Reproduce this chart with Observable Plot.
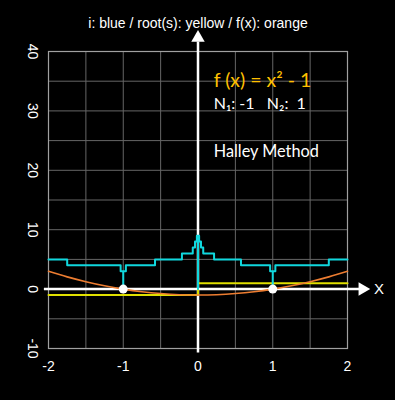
<!DOCTYPE html>
<html>
<head>
<meta charset="utf-8">
<script src="https://cdn.jsdelivr.net/npm/d3@7"></script>
<script src="https://cdn.jsdelivr.net/npm/@observablehq/plot@0.6"></script>
<style>
  html, body { margin: 0; padding: 0; background: #000; }
  #chart svg { display: block; }
</style>
</head>
<body>
<div id="chart"></div>
<script>
// ---- data ----
const title = "i: blue / root(s): yellow / f(x): orange";
const xTicks = [-2, -1, 0, 1, 2];
const yTicks = [-10, 0, 10, 20, 30, 40];
const xGrid = [-1.5, -1, -0.5, 0, 0.5, 1, 1.5];
const yGrid = [-5, 0, 5, 10, 15, 20, 25, 30, 35];

// iteration count (cyan), step-after
const iterX = [-2, -1.75, -1.035, -1, -1, -0.965, -0.575, -0.215, -0.07, -0.04, -0.015, 0, 0, 0.015, 0.04, 0.07, 0.215, 0.575, 0.965, 1, 1, 1.035, 1.75, 2];
const iterY = [5, 4, 3, 0, 3, 4, 5, 6, 7, 8, 9, 0, 9, 8, 7, 6, 5, 4, 3, 0, 3, 4, 5, 5];

// root found (yellow), step-after
const rootX = [-2, 0, 2];
const rootY = [-1, 1, 1];

// f(x) samples (orange)
const fX = [-2, -1.75, -1.5, -1.25, -1, -0.75, -0.5, -0.25, 0, 0.25, 0.5, 0.75, 1, 1.25, 1.5, 1.75, 2];
const fY = [3, 2.06, 1.25, 0.56, 0, -0.44, -0.75, -0.94, -1, -0.94, -0.75, -0.44, 0, 0.56, 1.25, 2.06, 3];

// roots (white dots)
const rootsX = [-1, 1];

const formula = "f (x) = x² - 1";
const rootsLabel = "N₁: -1\u00a0\u00a0\u00a0N₂:\u00a0\u00a01";
const methodLabel = "Halley Method";

// ---- build tables ----
const iter = iterX.map((x, i) => ({x, y: iterY[i]}));
const root = rootX.map((x, i) => ({x, y: rootY[i]}));
const fx = fX.map((x, i) => ({x, y: fY[i]}));

const annoFont = "Lato, Open Sans, sans-serif";

const chart = Plot.plot({
  width: 395,
  height: 400,
  marginTop: 51,
  marginBottom: 52,
  marginLeft: 48,
  marginRight: 48,
  style: {background: "#000", color: "#fff", fontFamily: "Liberation Sans, Arial, sans-serif"},
  x: {domain: [-2, 2], axis: null},
  y: {domain: [-10, 40], axis: null},
  marks: [
    Plot.ruleX(xGrid, {stroke: "#666", strokeWidth: 1}),
    Plot.ruleY(yGrid, {stroke: "#666", strokeWidth: 1}),
    Plot.frame({stroke: "#a0a0a0", strokeWidth: 1.2}),
    // axes
    Plot.ruleY([0], {x1: -2.055, x2: 2.17, stroke: "#fff", strokeWidth: 2.5}),
    Plot.ruleX([0], {y1: -10.75, y2: 41.6, stroke: "#fff", strokeWidth: 2.5}),
    Plot.dot([0], {x: 2.2, y: 0, symbol: "triangle", r: 5, fill: "#fff", stroke: null, rotate: 90}),
    Plot.dot([0], {x: 0, y: 42.3, symbol: "triangle", r: 5, fill: "#fff", stroke: null}),
    Plot.text(["X"], {x: 2.42, y: 0, fill: "#fff", fontSize: 15, textAnchor: "middle", lineAnchor: "middle"}),
    // series
    Plot.line(root, {x: "x", y: "y", curve: "step-after", stroke: "#e0e000", strokeWidth: 2}),
    Plot.line(fx, {x: "x", y: "y", curve: "catmull-rom", stroke: "#ed7d31", strokeWidth: 1.6}),
    Plot.line(iter, {x: "x", y: "y", curve: "step-after", stroke: "#10d8de", strokeWidth: 2}),
    Plot.dot(rootsX, {x: d => d, y: 0, r: 4.5, fill: "#fff", stroke: null}),
    // tick labels
    Plot.text(xTicks, {x: d => d, frameAnchor: "bottom", dy: 18, text: d => String(d), fill: "#fff", fontSize: 14, lineAnchor: "middle"}),
    Plot.text(yTicks, {y: d => d, frameAnchor: "left", dx: -16, rotate: 90, text: d => String(d), fill: "#fff", fontSize: 14, lineAnchor: "middle", textAnchor: "middle"}),
    // title
    Plot.text([title], {frameAnchor: "top", dy: -28, fill: "#fff", fontSize: 14, lineAnchor: "middle"}),
    // annotations
    Plot.text([formula], {x: 0.21, y: 35.1, textAnchor: "start", lineAnchor: "middle", fill: "#ffc000", fontSize: 19.5, fontFamily: annoFont}),
    Plot.text([rootsLabel], {x: 0.21, y: 31.1, textAnchor: "start", lineAnchor: "middle", fill: "#fff", fontSize: 16, fontFamily: annoFont}),
    Plot.text([methodLabel], {x: 0.21, y: 23.2, textAnchor: "start", lineAnchor: "middle", fill: "#fff", fontSize: 16.3, fontFamily: annoFont})
  ]
});
document.getElementById("chart").append(chart);
</script>
</body>
</html>
